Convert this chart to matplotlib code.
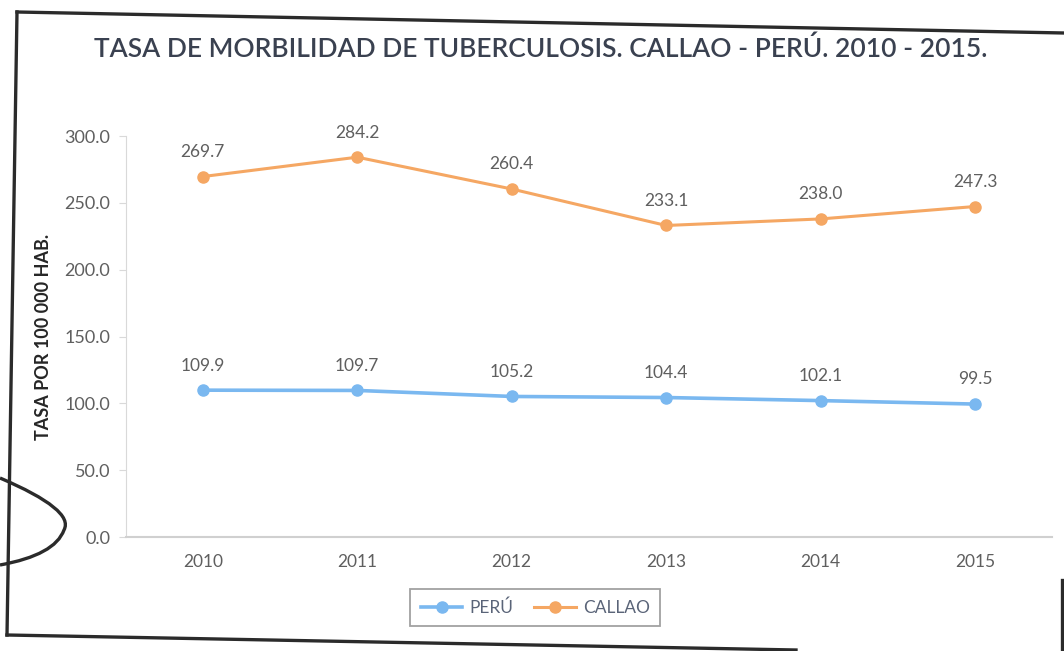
import matplotlib.pyplot as plt
from matplotlib.lines import Line2D
from matplotlib.path import Path
from matplotlib.patches import PathPatch

plt.rcParams['font.family'] = ['Lato', 'DejaVu Sans']

years = ["2010", "2011", "2012", "2013", "2014", "2015"]
peru = [109.9, 109.7, 105.2, 104.4, 102.1, 99.5]
callao = [269.7, 284.2, 260.4, 233.1, 238.0, 247.3]
yticks = [0, 50, 100, 150, 200, 250, 300]

blue = "#7ab8f0"
orange = "#f5a763"
grey = "#5f5f5f"

fig = plt.figure(figsize=(10.64, 6.51), dpi=100)
ax = fig.add_axes([0.118, 0.175, 0.871, 0.616])

x = list(range(len(years)))
ax.plot(x, peru, color=blue, lw=2.6, marker="o", ms=8, label="PERÚ")
ax.plot(x, callao, color=orange, lw=2.2, marker="o", ms=8, label="CALLAO")

for xi, v in zip(x, peru):
    ax.annotate(f"{v:.1f}", (xi, v), xytext=(0, 12), textcoords="offset points",
                ha="center", va="bottom", fontsize=12.5, color=grey)
for xi, v in zip(x, callao):
    ax.annotate(f"{v:.1f}", (xi, v), xytext=(0, 12), textcoords="offset points",
                ha="center", va="bottom", fontsize=12.5, color=grey)

ax.set_xlim(-0.5, len(years) - 0.5)
ax.set_ylim(0, 300)
ax.set_xticks(x)
ax.set_xticklabels(years, fontsize=12.5, color=grey)
ax.set_yticks(yticks)
ax.set_yticklabels([f"{t:.1f}" for t in yticks], fontsize=13, color=grey)
ax.tick_params(axis="x", length=0, pad=12)
ax.tick_params(axis="y", length=5, color="#d9d9d9", pad=6)
for side in ["top", "right"]:
    ax.spines[side].set_visible(False)
ax.spines["left"].set_color("#d9d9d9")
ax.spines["bottom"].set_color("#d0d0d0")
ax.spines["bottom"].set_linewidth(1.5)

ax.set_ylabel("TASA POR 100 000 HAB.", fontsize=13, fontweight="bold",
              color="#262626", labelpad=9)

fig.text(0.508, 0.925, "TASA DE MORBILIDAD DE TUBERCULOSIS. CALLAO - PERÚ. 2010 - 2015.",
         ha="center", va="center", fontsize=19, color="#3a4150", fontweight="semibold")

leg = fig.legend(loc="center", bbox_to_anchor=(0.503, 0.067), ncol=2, frameon=True,
                 fontsize=12.5, handlelength=2.4, handletextpad=0.4,
                 columnspacing=1.2, borderpad=0.6, fancybox=False)
leg.get_frame().set_edgecolor("#8a8a8a")
leg.get_frame().set_linewidth(1.3)
for t in leg.get_texts():
    t.set_color("#5a6478")

# scanned page edges and the pen mark on the left
W, H = 1064.0, 651.0
edges = [
    ([17, 1064], [12, 33]),
    ([17, 7], [12, 635]),
    ([7, 796], [635, 650]),
    ([1062, 1062], [580, 651]),
]
for ex, ey in edges:
    fig.add_artist(Line2D([a / W for a in ex], [1 - b / H for b in ey],
                          transform=fig.transFigure, color="#2b2b2b", lw=2.4))

verts = [(0, 478), (75, 510), (64, 530), (55, 555), (0, 565)]
codes = [Path.MOVETO, Path.CURVE3, Path.CURVE3, Path.CURVE3, Path.CURVE3]
pen = Path([(a / W, 1 - b / H) for a, b in verts], codes)
fig.add_artist(PathPatch(pen, transform=fig.transFigure, fill=False,
                         edgecolor="#2b2b2b", lw=2.4))

fig.savefig("out.png", dpi=100)
